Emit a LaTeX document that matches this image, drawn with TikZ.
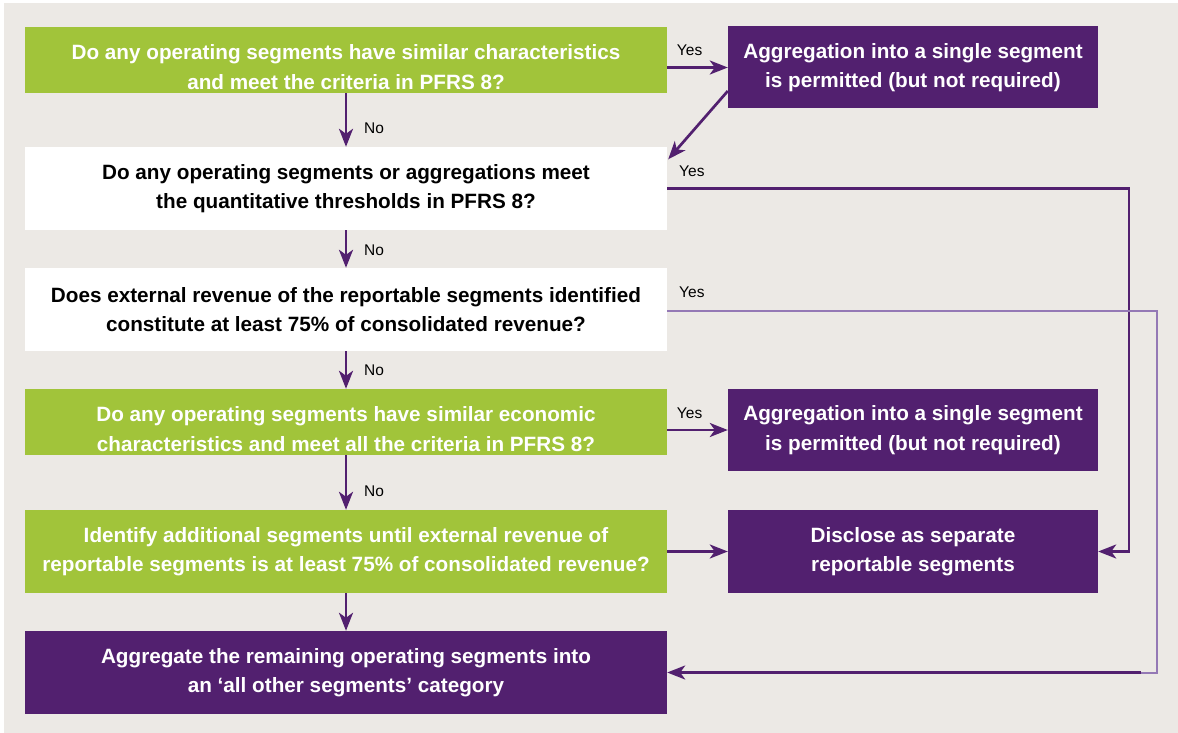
\documentclass[tikz,border=0pt]{standalone}
\usepackage{fontspec}
\setmainfont{Liberation Sans}
\usetikzlibrary{arrows.meta,calc}
\definecolor{bgrey}{HTML}{ECE9E5}
\definecolor{lgreen}{HTML}{A1C43A}
\definecolor{dpurple}{HTML}{52206F}
\definecolor{lpurple}{HTML}{9479B5}
\newcommand{\lowstrut}{\rule{0pt}{29pt}}
\begin{document}
\begin{tikzpicture}[x=1pt,y=-1pt,
		box/.style={minimum width=642pt, inner sep=0pt, align=center, font=\fontsize{20.7}{29.5}\selectfont\bfseries},
		greenbox/.style={box, fill=lgreen, text=white},
		whitebox/.style={box, fill=white, text=black},
		purplebox/.style={box, fill=dpurple, text=white},
		sidebox/.style={purplebox, minimum width=370pt, minimum height=82pt},
		arr/.style={draw=dpurple, line width=2.7pt, -{Stealth[length=18pt,width=14pt,inset=5pt]}},
		lbl/.style={font=\fontsize{15.5}{15.5}\selectfont, text=black, inner sep=0pt}]
		\useasboundingbox (0,0) rectangle (1178,733);
		\fill[white] (0,0) rectangle (1178,733);
		\fill[bgrey] (4,3) rectangle (1178,733);
		% left column
		\node[greenbox, minimum height=66pt] (q1) at (346,60) {\lowstrut Do any operating segments have similar characteristics\\and meet the criteria in PFRS 8?};
		\node[whitebox, minimum height=83pt] (q2) at (346,188.5) {Do any operating segments or aggregations meet\\the quantitative thresholds in PFRS 8?};
		\node[whitebox, minimum height=83pt] (q3) at (346,309.5) {Does external revenue of the reportable segments identified\\constitute at least 75\% of consolidated revenue?};
		\node[greenbox, minimum height=66pt] (q4) at (346,422) {\lowstrut Do any operating segments have similar economic\\characteristics and meet all the criteria in PFRS 8?};
		\node[greenbox, minimum height=83pt] (q5) at (346,551.5) {Identify additional segments until external revenue of\\reportable segments is at least 75\% of consolidated revenue?};
		\node[purplebox, minimum height=83pt] (agg) at (346,672.5) {Aggregate the remaining operating segments into\\an `all other segments' category};
		% right column
		\node[sidebox] (perm1) at (913,67.5) {Aggregation into a single segment\\is permitted (but not required)};
		\node[sidebox] (perm2) at (913,430) {Aggregation into a single segment\\is permitted (but not required)};
		\node[sidebox, minimum height=83pt] (discl) at (913,551.5) {Disclose as separate\\reportable segments};
		% down arrows
		\foreach \a/\b in {q1/q2,q2/q3,q3/q4,q4/q5,q5/agg}
			\draw[arr] (\a.south) -- (\b.north);
		\foreach \a/\d in {q1/35,q2/20,q3/19,q4/36}
			\node[lbl, anchor=west] at ($(\a.south)+(18,\d)$) {No};
		% yes arrows
		\draw[arr] (q1.east |- perm1.west) -- (perm1.west) node[lbl, pos=0.37, above=10pt] {Yes};
		\draw[arr] (q4.east |- perm2.west) -- (perm2.west) node[lbl, pos=0.37, above=10pt] {Yes};
		\draw[arr] (q5.east) -- (discl.west);
		\coordinate (p1out) at ($(perm1.west)+(0,23.5)$);
		\coordinate (q2in) at ($(q2.north east)+(1,12.5)$);
		\draw[arr] (p1out) -- (q2in);
		\coordinate (c2) at (1129,188.5);
		\draw[arr] (q2.east) -- (c2) |- (discl.east);
		\node[lbl, anchor=west] at (679,171) {Yes};
		\coordinate (c3) at (1157,311);
		\coordinate (c3b) at (1157,672.5);
		\coordinate (c3c) at (1141,672.5);
		\draw[draw=lpurple, line width=2pt] (q3.east |- c3) -- (c3) -- (c3b) -- (c3c);
		\draw[arr] (c3c) -- (agg.east);
		\node[lbl, anchor=west] at (679,292) {Yes};
	\end{tikzpicture}
\end{document}
